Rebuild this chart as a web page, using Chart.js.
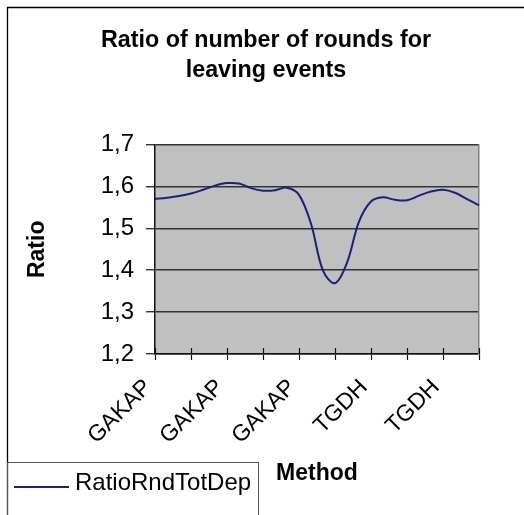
<!DOCTYPE html>
<html>
<head>
<meta charset="utf-8">
<title>Ratio of number of rounds for leaving events</title>
<script src="https://cdn.jsdelivr.net/npm/chart.js@4.4.1/dist/chart.umd.min.js"></script>
<style>
  html, body { margin: 0; padding: 0; background: #ffffff; }
  canvas { display: block; }
</style>
</head>
<body>
<canvas id="chart" width="524" height="515"></canvas>
<script>
// Methods along the category axis (one entry per measurement)
const methods = [
  'GAKAP', 'GAKAP', 'GAKAP', 'GAKAP', 'GAKAP', 'GAKAP', 'GAKAP',
  'GAKAP', 'GAKAP', 'GAKAP', 'GAKAP', 'GAKAP', 'GAKAP', 'GAKAP',
  'TGDH', 'TGDH', 'TGDH', 'TGDH', 'TGDH', 'TGDH', 'TGDH',
  'TGDH', 'TGDH', 'TGDH', 'TGDH', 'TGDH', 'TGDH', 'TGDH'
];

// Ratio of rounds, total vs. departure
const ratioRndTotDep = [
  1.570, 1.573, 1.577, 1.583, 1.592, 1.602, 1.608,
  1.607, 1.596, 1.590, 1.591, 1.597, 1.580, 1.511,
  1.399, 1.369, 1.418, 1.516, 1.564, 1.574, 1.568,
  1.567, 1.578, 1.588, 1.592, 1.585, 1.570, 1.555
];

const seriesName = 'RatioRndTotDep';
const chartTitle = ['Ratio of number of rounds for', 'leaving events'];
const yAxisTitle = 'Ratio';
const xAxisTitle = 'Method';
const yMin = 1.2;
const yMax = 1.7;
const yStep = 0.1;
const tickEvery = 3;   // tick mark every 3 categories
const labelEvery = 6;  // label every 6 categories

const FONT = "'Liberation Sans', Arial, Helvetica, sans-serif";
const LINE_COLOR = '#1e1e7c';
const PLOT_FILL = '#c0c0c0';

// White page, gray plot area
const backdrop = {
  id: 'backdrop',
  beforeDraw(chart) {
    const { ctx, chartArea: a } = chart;
    ctx.save();
    ctx.fillStyle = '#ffffff';
    ctx.fillRect(0, 0, chart.width, chart.height);
    ctx.fillStyle = PLOT_FILL;
    ctx.fillRect(a.left, a.top, a.right - a.left, a.bottom - a.top);
    ctx.restore();
  },
  // upper half of the crossing tick marks on the category axis
  beforeDatasetsDraw(chart) {
    const { ctx } = chart;
    const x = chart.scales.x;
    ctx.save();
    ctx.strokeStyle = '#111111';
    ctx.lineWidth = 1.2;
    ctx.beginPath();
    for (let i = 0; i < x.ticks.length; i++) {
      if (i % tickEvery !== 0) continue;
      const px = Math.round(x.getPixelForTick(i)) + 0.5;
      ctx.moveTo(px, x.top);
      ctx.lineTo(px, x.top - 6);
    }
    ctx.stroke();
    ctx.restore();
  }
};

// Chart frame and boxed legend
const frameAndLegend = {
  id: 'frameAndLegend',
  afterDraw(chart) {
    const { ctx } = chart;
    ctx.save();
    // outer frame
    ctx.strokeStyle = '#000000';
    ctx.lineWidth = 1.3;
    ctx.beginPath();
    ctx.moveTo(7.5, chart.height);
    ctx.lineTo(7.5, 7.5);
    ctx.lineTo(chart.width, 7.5);
    ctx.stroke();

    // legend box
    ctx.strokeStyle = '#555555';
    ctx.lineWidth = 1;
    ctx.strokeRect(7.5, 462.5, 251, 80);

    const ds = chart.data.datasets[0];
    ctx.strokeStyle = ds.borderColor;
    ctx.lineWidth = 2;
    ctx.beginPath();
    ctx.moveTo(14, 487);
    ctx.lineTo(69, 487);
    ctx.stroke();

    ctx.fillStyle = '#000000';
    ctx.font = '24px ' + FONT;
    ctx.textBaseline = 'alphabetic';
    ctx.textAlign = 'left';
    ctx.fillText(ds.label, 75, 490);
    ctx.restore();
  }
};

const fmt = v => Number(v).toFixed(1).replace('.', ',');

new Chart(document.getElementById('chart'), {
  type: 'line',
  data: {
    labels: methods,
    datasets: [{
      label: seriesName,
      data: ratioRndTotDep,
      borderColor: LINE_COLOR,
      backgroundColor: LINE_COLOR,
      borderWidth: 2,
      pointRadius: 0,
      tension: 0.35,
      fill: false
    }]
  },
  options: {
    responsive: false,
    animation: false,
    devicePixelRatio: 1,
    layout: { padding: { left: 8, top: 0, right: 0, bottom: 0 } },
    plugins: {
      legend: { display: false },
      tooltip: { enabled: false },
      title: {
        display: true,
        text: chartTitle,
        color: '#000000',
        font: { family: FONT, size: 23.3, weight: 'bold', lineHeight: 1.3 },
        padding: { top: 25, bottom: 59 }
      }
    },
    scales: {
      x: {
        type: 'category',
        offset: false,
        grid: {
          display: true,
          drawOnChartArea: false,
          drawTicks: true,
          tickLength: 6,
          tickWidth: 1.2,
          tickColor: c => (c.index % tickEvery === 0 ? '#111111' : 'rgba(0,0,0,0)')
        },
        border: { display: true, color: '#111111', width: 1.5 },
        ticks: {
          autoSkip: false,
          minRotation: 45,
          maxRotation: 45,
          padding: 14,
          labelOffset: -7,
          color: '#000000',
          font: { family: FONT, size: 23 },
          callback: function (value, index) {
            return index % labelEvery === 0 ? this.getLabelForValue(value) : '';
          }
        },
        title: {
          display: true,
          text: xAxisTitle,
          color: '#000000',
          font: { family: FONT, size: 23, weight: 'bold' },
          padding: { top: 0, bottom: 28 }
        },
        afterFit(scale) { scale.height = 161; }
      },
      y: {
        type: 'linear',
        position: 'left',
        min: yMin,
        max: yMax,
        grid: {
          color: '#333333',
          lineWidth: 1.5,
          drawTicks: true,
          tickLength: 9,
          tickColor: '#111111',
          tickWidth: 1.2
        },
        border: { display: true, color: '#111111', width: 1.5 },
        ticks: {
          stepSize: yStep,
          padding: 12,
          color: '#000000',
          font: { family: FONT, size: 24 },
          callback: v => fmt(v)
        },
        title: {
          display: true,
          text: yAxisTitle,
          color: '#000000',
          font: { family: FONT, size: 23, weight: 'bold' },
          padding: { top: 16, bottom: 0 }
        },
        afterFit(scale) { scale.width = 147; }
      },
      // right edge of the plot area
      yRight: {
        type: 'linear',
        position: 'right',
        display: true,
        grid: { display: false, drawTicks: false },
        ticks: { display: false },
        border: { display: true, color: '#808080', width: 1.5 },
        afterFit(scale) { scale.width = 45; }
      }
    }
  },
  plugins: [backdrop, frameAndLegend]
});
</script>
</body>
</html>
